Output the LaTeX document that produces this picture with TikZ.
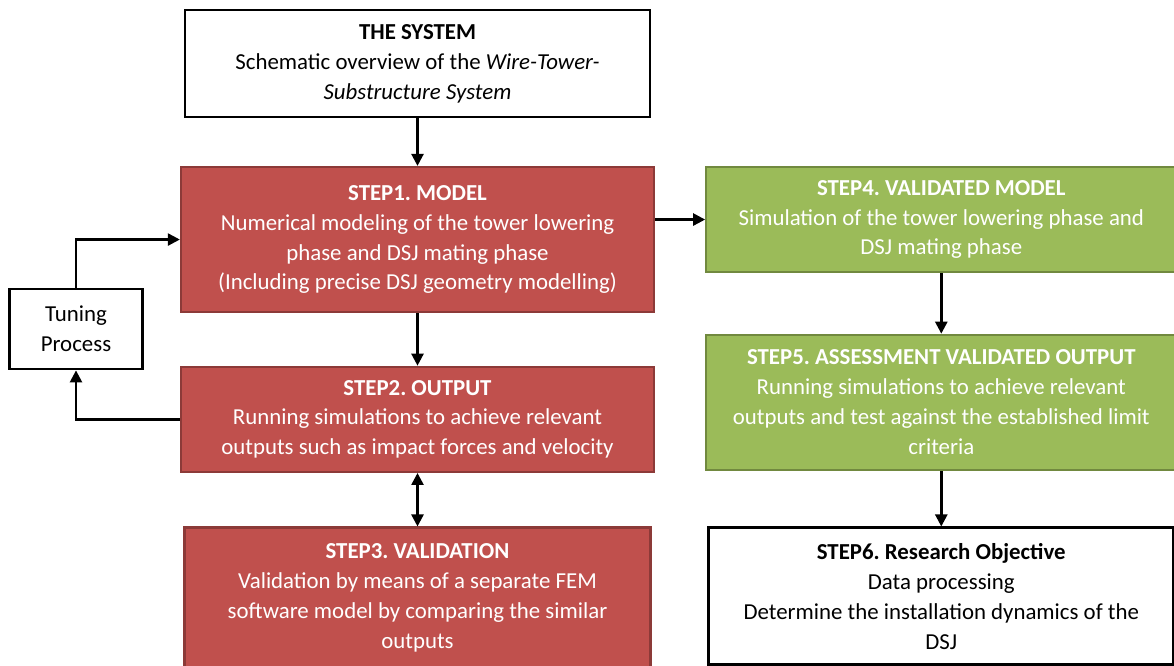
\documentclass[tikz,border=0pt]{standalone}
\usepackage{fontspec}
\setmainfont{Carlito}
\usepackage{tikz}
\usetikzlibrary{arrows.meta,positioning,calc}
\definecolor{brick}{HTML}{C0504D}
\definecolor{brickdk}{HTML}{8C3A38}
\definecolor{olive}{HTML}{9BBB59}
\definecolor{olivedk}{HTML}{71893F}
\frenchspacing
\tikzset{
  box/.style={rectangle, draw=black, fill=white, line width=1.6pt, align=center,
              inner sep=2pt, font=\fontsize{13}{17}\selectfont},
  boxred/.style={box, draw=brickdk, fill=brick, text=white, line width=1.3pt},
  boxgrn/.style={box, draw=olivedk, fill=olive, text=white, line width=1.3pt},
  fl/.style={-{Triangle[length=2.4mm,width=2.4mm]}, line width=1.4pt, draw=black},
  fll/.style={{Triangle[length=2.4mm,width=2.4mm]}-{Triangle[length=2.4mm,width=2.4mm]}, line width=1.4pt, draw=black},
}
\begin{document}
\begin{tikzpicture}
  \useasboundingbox (0,0) rectangle (23.48,-13.32);
  \clip (0,0) rectangle (23.48,-13.32);
  % left column
  \node[box, minimum width=9.3cm, minimum height=2.14cm] (sys) at (8.35,-1.27)
    {\textbf{THE SYSTEM}\\Schematic overview of the \textit{Wire-Tower-}\\\textit{Substructure System}};
  \node[boxred, minimum width=9.46cm, minimum height=2.9cm, below=0.95cm of sys] (s1)
    {\textbf{STEP1. MODEL}\\Numerical modeling of the tower lowering\\phase and DSJ mating phase\\(Including precise DSJ geometry modelling)};
  \node[boxred, minimum width=9.46cm, minimum height=2.1cm, below=1.05cm of s1] (s2)
    {\textbf{STEP2. OUTPUT}\\Running simulations to achieve relevant\\outputs such as impact forces and velocity};
  \node[boxred, minimum width=9.32cm, minimum height=2.8cm, below=1.07cm of s2] (s3)
    {\textbf{STEP3. VALIDATION}\\Validation by means of a separate FEM\\software model by comparing the similar\\outputs};
  \node[box, minimum width=2.66cm, minimum height=1.6cm] (tune) at (1.52,-6.58)
    {Tuning\\Process};
  % right column
  \node[boxgrn, minimum width=9.4cm, minimum height=2.1cm, right=1.0cm of s1.north east, anchor=north west] (s4)
    {\textbf{STEP4. VALIDATED MODEL}\\Simulation of the tower lowering phase and\\DSJ mating phase};
  \node[boxgrn, minimum width=9.4cm, minimum height=2.7cm, below=1.21cm of s4] (s5)
    {\textbf{STEP5. ASSESSMENT VALIDATED OUTPUT}\\Running simulations to achieve relevant\\outputs and test against the established limit\\criteria};
  \node[box, minimum width=9.3cm, minimum height=2.74cm, below=1.11cm of s5] (s6)
    {\textbf{STEP6. Research Objective}\\Data processing\\Determine the installation dynamics of the\\DSJ};
  % connectors
  \draw[fl] (sys) -- (s1);
  \draw[fl] (s1) -- (s2);
  \draw[fll] (s2) -- (s3);
  \draw[fl] (s1.east |- s4.west) -- (s4.west);
  \draw[fl] (s4) -- (s5);
  \draw[fl] (s5) -- (s6);
  \draw[fl] (tune.north) |- (s1.west);
  \draw[fl] (s2.west) -| (tune.south);
\end{tikzpicture}
\end{document}
